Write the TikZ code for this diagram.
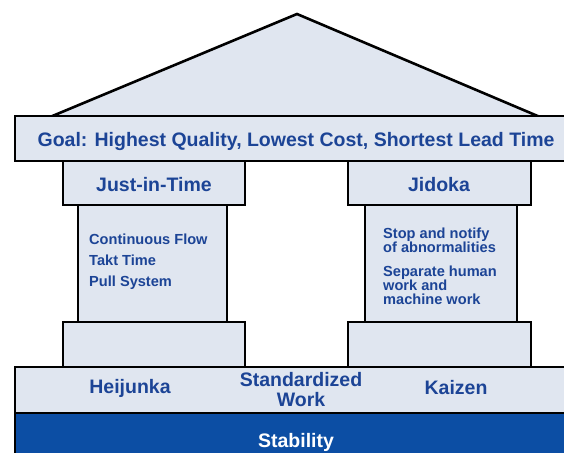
\documentclass[tikz,border=0pt]{standalone}
\usepackage{fontspec}
\setmainfont{Liberation Sans}
\usepackage{tikz}
\usetikzlibrary{positioning}
\usepackage{xcolor}
\definecolor{houseFill}{RGB}{224, 230, 240}
\definecolor{labelBlue}{RGB}{28, 68, 150}
\definecolor{stabilityBlue}{RGB}{12, 78, 164}
\newcommand{\bigLabel}{\fontsize{19.5}{17}\selectfont\bfseries}
\newcommand{\smallLabel}{\fontsize{14.6}{14}\selectfont\bfseries}
\tikzset{
    block/.style={fill=houseFill, draw=black, line width=2.6pt},
    base block/.style={fill=stabilityBlue, draw=black, line width=2.6pt},
    big label/.style={text=labelBlue, font=\bigLabel, inner sep=0pt, anchor=base},
    small label/.style={text=labelBlue, font=\smallLabel, inner sep=0pt, anchor=base west}
}

\begin{document}
\begin{tikzpicture}[x=1pt, y=-1pt]
    \useasboundingbox (0,0) rectangle (564,452);

    % Roof
    \draw[block, line join=miter] (50,117) -- (297,14) -- (540,117);

    % Goal beam
    \draw[block] (15,116) rectangle (568,161);
    \node[big label] (goal) at (296,146)
        {Goal: Highest Quality, Lowest Cost, Shortest Lead Time};

    % Left pillar: Just-in-Time
    \draw[block] (78,205) rectangle (227,322);
    \draw[block] (63,161) rectangle (245,205);
    \draw[block] (63,322) rectangle (245,367);
    \node[big label] (jit) at (154,191) {Just-in-Time};
    \node[small label] (flow) at (89,244) {Continuous Flow};
    \node[small label] (takt) at (89,265) {Takt Time};
    \node[small label] (pull) at (89,286) {Pull System};

    % Right pillar: Jidoka
    \draw[block] (365,205) rectangle (517,322);
    \draw[block] (348,161) rectangle (531,205);
    \draw[block] (348,322) rectangle (531,367);
    \node[big label] (jidoka) at (439,191) {Jidoka};
    \node[small label] (stop) at (383,238) {Stop and notify};
    \node[small label] (abnormal) at (383,252) {of abnormalities};
    \node[small label] (separate) at (383,276) {Separate human};
    \node[small label] (workand) at (383,290) {work and};
    \node[small label] (machine) at (383,304) {machine work};

    % Foundation
    \draw[block] (15,367) rectangle (568,413);
    \node[big label] (heijunka) at (130,393) {Heijunka};
    \node[big label] (standard) at (301,386.5) {Standardized};
    \node[big label] (work) at (301,406) {Work};
    \node[big label] (kaizen) at (456,394) {Kaizen};

    % Stability
    \draw[base block] (15,413) rectangle (568,458);
    \node[big label, text=white] (stability) at (296,447) {Stability};
\end{tikzpicture}
\end{document}
